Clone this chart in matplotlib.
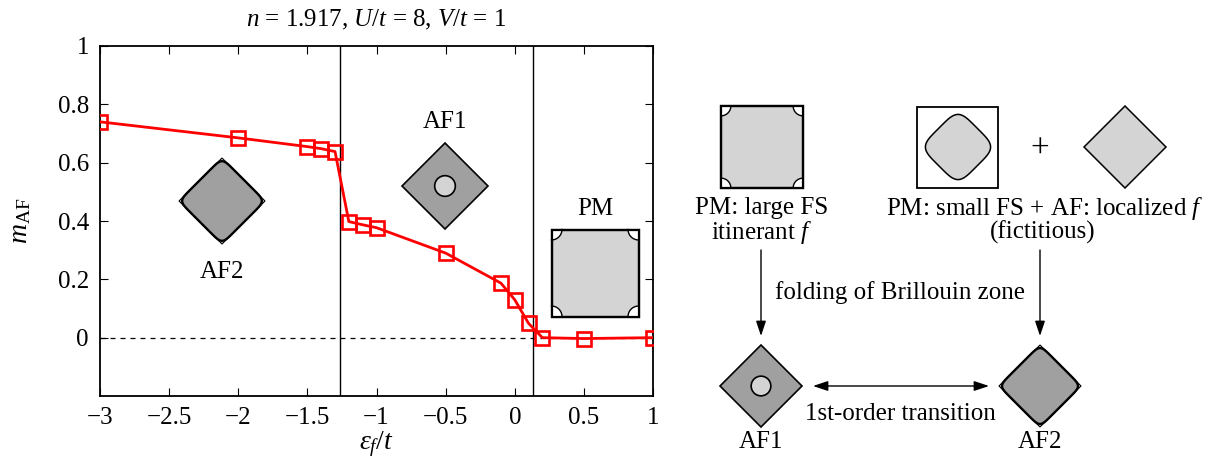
import numpy as np
import matplotlib.pyplot as plt
from matplotlib.patches import Polygon, Circle, Rectangle, Wedge

plt.rcParams['font.family'] = ['Liberation Serif', 'DejaVu Serif']
plt.rcParams['mathtext.fontset'] = 'custom'
plt.rcParams['mathtext.rm'] = 'Liberation Serif'
plt.rcParams['mathtext.it'] = 'Liberation Serif:italic'

# data
eps_f = [-3.0, -2.0, -1.5, -1.4, -1.3, -1.2, -1.1, -1.0, -0.5, -0.1, 0.0, 0.1, 0.2, 0.5, 1.0]
m_af = [0.74, 0.685, 0.655, 0.648, 0.638, 0.398, 0.387, 0.377, 0.29, 0.187, 0.13, 0.049, 0.0, -0.003, 0.0]
boundaries = [-1.265, 0.135]
xticks = [-3, -2.5, -2, -1.5, -1, -0.5, 0, 0.5, 1]
xticklabels = ['−3', '−2.5', '−2', '−1.5', '−1', '−0.5', '0', '0.5', '1']
yticks = [0, 0.2, 0.4, 0.6, 0.8, 1]
yticklabels = ['0', '0.2', '0.4', '0.6', '0.8', '1']

W, H = 1221, 459
fig = plt.figure(figsize=(W / 100, H / 100), dpi=100)
ax = fig.add_axes([100 / W, 1 - 396 / H, 553 / W, 350 / H])

ax.plot(eps_f, m_af, color='red', lw=2, marker='s', markersize=10,
        markerfacecolor='none', markeredgewidth=1.9, zorder=5)
ax.axhline(0, color='black', lw=0.9, ls=(0, (4, 4)))
for b in boundaries:
    ax.axvline(b, color='black', lw=1.0)
ax.set_xlim(-3, 1)
ax.set_ylim(-0.2, 1)
ax.set_xticks(xticks)
ax.set_xticklabels(xticklabels)
ax.set_yticks(yticks)
ax.set_yticklabels(yticklabels)
ax.tick_params(direction='in', top=True, right=True, labelsize=18, length=6, pad=8)
for s in ax.spines.values():
    s.set_linewidth(1.3)
ax.set_title(r'$n$ = 1.917, $U/t$ = 8, $V/t$ = 1', fontsize=18, pad=14)
ax.set_xlabel(r'$\varepsilon_f/t$', fontsize=20, labelpad=0)
ax.set_ylabel(r'$m_{\rm AF}$', fontsize=20, labelpad=18)

# overlay for schematic Fermi-surface sketches, in pixel units
ov = fig.add_axes([0, 0, 1, 1], zorder=10)
ov.set_xlim(0, W)
ov.set_ylim(H, 0)
ov.axis('off')
ov.patch.set_alpha(0)

DARK = '#a0a0a0'
LIGHT = '#d4d4d4'


def diamond(cx, cy, r, fc, lw=1.2, ec='black', z=1):
    ov.add_patch(Polygon([(cx - r, cy), (cx, cy - r), (cx + r, cy), (cx, cy + r)],
                         closed=True, fc=fc, ec=ec, lw=lw, zorder=z))


def rounded_diamond(cx, cy, r, fc, lw=1.5, n=7, z=2):
    t = np.linspace(0, 2 * np.pi, 400)
    a = r / np.sqrt(2)
    u = np.sign(np.cos(t)) * np.abs(np.cos(t)) ** (2 / n) * a
    v = np.sign(np.sin(t)) * np.abs(np.sin(t)) ** (2 / n) * a
    x = (u - v) / np.sqrt(2)
    y = (u + v) / np.sqrt(2)
    ov.add_patch(Polygon(np.column_stack([cx + x, cy + y]), closed=True,
                         fc=fc, ec='black', lw=lw, zorder=z))


def af1(cx, cy, r):
    diamond(cx, cy, r, DARK)
    ov.add_patch(Circle((cx, cy), r * 0.24, fc=LIGHT, ec='black', lw=1.2, zorder=3))


def af2(cx, cy, r):
    diamond(cx, cy, r, LIGHT, lw=0.8)
    rounded_diamond(cx, cy, r * 1.0, DARK, lw=1.7, n=9)


def pm(cx, cy, s):
    h = s / 2
    ov.add_patch(Rectangle((cx - h, cy - h), s, s, fc=LIGHT, ec='black', lw=1.6, zorder=1))
    rc = s * 0.12
    corners = [(cx - h, cy - h, 0), (cx + h, cy - h, 90),
               (cx + h, cy + h, 180), (cx - h, cy + h, 270)]
    for (px, py, a0) in corners:
        ov.add_patch(Wedge((px, py), rc, a0, a0 + 90, fc='white', ec='none', zorder=2))
        th = np.radians(np.linspace(a0, a0 + 90, 30))
        ov.plot(px + rc * np.cos(th), py + rc * np.sin(th), color='black', lw=1.0, zorder=3)
    ov.add_patch(Rectangle((cx - h, cy - h), s, s, fc='none', ec='black', lw=1.6, zorder=4))


fs = 18
# inside the plot
af2(222, 201, 43)
ov.text(222, 272, 'AF2', ha='center', va='center', fontsize=fs)
af1(445, 186, 43)
ov.text(445, 122, 'AF1', ha='center', va='center', fontsize=fs)
pm(595, 273, 87)
ov.text(595, 209, 'PM', ha='center', va='center', fontsize=fs)

# right-hand schematic
pm(762, 147, 82)
ov.add_patch(Rectangle((917, 107), 81, 81, fc='white', ec='black', lw=1.3, zorder=1))
rounded_diamond(958, 147, 38, LIGHT, lw=1.1, n=4.5)
ov.text(1040, 149, '+', ha='center', va='center', fontsize=24)
diamond(1125, 147, 41, LIGHT, lw=1.1)

ov.text(762, 208, 'PM: large FS', ha='center', va='center', fontsize=fs)
ov.text(762, 232, r'itinerant $f$', ha='center', va='center', fontsize=fs)
ov.text(1045, 208, r'PM: small FS + AF: localized $f$', ha='center', va='center', fontsize=fs)
ov.text(1043, 232, '(fictitious)', ha='center', va='center', fontsize=fs)

arr = dict(arrowstyle='-|>,head_length=0.9,head_width=0.3', color='black', lw=1.0,
           shrinkA=0, shrinkB=0)
ov.annotate('', xy=(761, 336), xytext=(761, 250), arrowprops=arr)
ov.annotate('', xy=(1040, 336), xytext=(1040, 250), arrowprops=arr)
ov.text(900, 293, 'folding of Brillouin zone', ha='center', va='center', fontsize=fs)

af1(761, 386, 41)
af2(1040, 386, 41)
arr2 = dict(arrowstyle='<|-|>,head_length=0.9,head_width=0.3', color='black', lw=1.0,
            shrinkA=0, shrinkB=0)
ov.annotate('', xy=(989, 386), xytext=(813, 386), arrowprops=arr2)
ov.text(900, 414, '1st-order transition', ha='center', va='center', fontsize=fs)
ov.text(761, 442, 'AF1', ha='center', va='center', fontsize=fs)
ov.text(1040, 442, 'AF2', ha='center', va='center', fontsize=fs)

fig.savefig('out.png', dpi=100)
